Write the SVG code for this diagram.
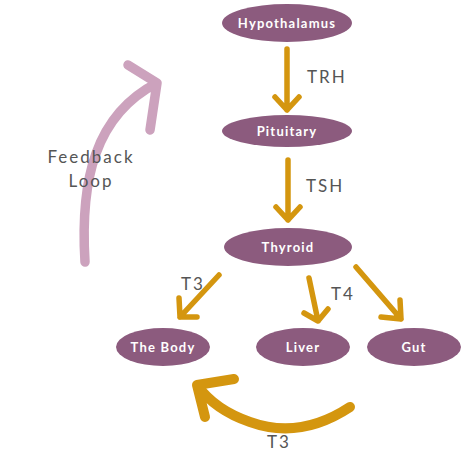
<svg xmlns="http://www.w3.org/2000/svg" width="474" height="474" viewBox="0 0 474 474">
<style>
.node ellipse{fill:#8c5b7e}
.node text{fill:#fff;font-family:"Lato","Open Sans",sans-serif;font-weight:bold;font-size:13px;letter-spacing:1.2px;text-anchor:middle}
.lbl{fill:#555;font-family:"Lato","Open Sans",sans-serif;font-size:17px;letter-spacing:2px}
.gold{fill:none;stroke:#d4960f;stroke-width:5.5;stroke-linecap:round;stroke-linejoin:round}
.goldb{fill:none;stroke:#d4960f;stroke-width:10;stroke-linecap:round;stroke-linejoin:round}
.pink{fill:none;stroke:#cca2bd;stroke-width:9.5;stroke-linecap:round;stroke-linejoin:round}
</style>
<rect width="474" height="474" fill="#fff"/>
<g id="connectors">
  <path class="gold" d="M287,49 V110 M275,97 L287,110 L299,97"/>
  <path class="gold" d="M288,160 V220 M276,207 L288,220 L300,207"/>
  <path class="gold" d="M219,275 L180,317 M179,298 L180,317 L197,317"/>
  <path class="gold" d="M309,278 L318,321 M304,313 L318,321 L328,309"/>
  <path class="gold" d="M356,267 L401,319 M400,300 L401,319 L381,317"/>
  <path class="goldb" d="M350,407 Q300,440 250,422 Q215,410 197,385 M234,379 L197,385 L205,417"/>
  <path class="pink" d="M85,262 C80,180 95,115 157,83 M128,65 L157,83 L150,130"/>
</g>
<g id="hypothalamus" class="node"><ellipse cx="287" cy="23" rx="65" ry="19"/><text x="287" y="28">Hypothalamus</text></g>
<g id="pituitary" class="node"><ellipse cx="287" cy="131" rx="65" ry="16"/><text x="287" y="136">Pituitary</text></g>
<g id="thyroid" class="node"><ellipse cx="288" cy="247" rx="64" ry="19"/><text x="288" y="252">Thyroid</text></g>
<g id="body" class="node"><ellipse cx="163" cy="347" rx="47" ry="19"/><text x="163" y="352">The Body</text></g>
<g id="liver" class="node"><ellipse cx="303" cy="347" rx="47" ry="19"/><text x="303" y="352">Liver</text></g>
<g id="gut" class="node"><ellipse cx="414" cy="347" rx="47" ry="19"/><text x="414" y="352">Gut</text></g>
<g id="labels">
  <text class="lbl" x="307" y="83">TRH</text>
  <text class="lbl" x="306" y="192">TSH</text>
  <text class="lbl" x="181" y="290">T3</text>
  <text class="lbl" x="331" y="300">T4</text>
  <text class="lbl" x="267" y="448">T3</text>
  <text class="lbl" x="91" y="163" text-anchor="middle">Feedback</text>
  <text class="lbl" x="91" y="187" text-anchor="middle">Loop</text>
</g>
</svg>
